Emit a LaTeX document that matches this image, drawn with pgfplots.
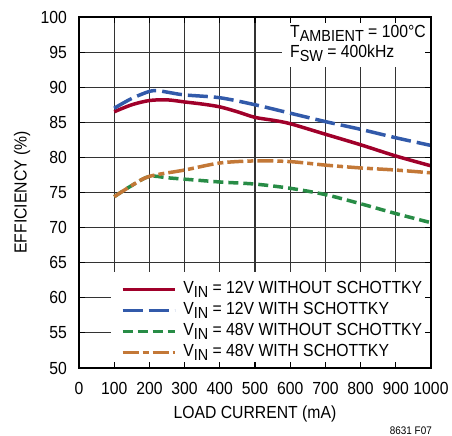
\documentclass[border=0pt]{standalone}
\usepackage{pgfplots}
\pgfplotsset{compat=1.18}
\usepackage{fontspec}
\setmainfont{Liberation Sans}[FakeStretch=0.9]
\newcommand\f{\fontsize{17.5bp}{21bp}\selectfont}
\newcommand\sub[1]{\raisebox{-4bp}{\fontsize{16bp}{16bp}\selectfont #1}}
\definecolor{cred}{RGB}{160,0,42}
\definecolor{cblue}{RGB}{50,90,170}
\definecolor{cgreen}{RGB}{40,140,70}
\definecolor{corange}{RGB}{195,120,55}
\begin{document}
\begin{tikzpicture}
\useasboundingbox (0,0) rectangle (452bp,436bp);
\begin{axis}[
  at={(79bp,68bp)}, anchor=south west,
  scale only axis, width=352bp, height=351bp,
  xmin=0, xmax=1000, ymin=50, ymax=100,
  xtick={0,100,...,1000}, ytick={50,55,...,100},
  grid=major, major grid style={black!80, line width=1.1bp},
  axis line style={line width=1.5bp},
  tick style={draw=none},
  /pgf/number format/assume math mode=true,
  /pgf/number format/1000 sep={},
  ticklabel style={font=\f, inner sep=0pt},
  yticklabel style={xshift=-12bp},
  xticklabel style={yshift=-14bp},
  legend image code/.code={\draw[#1] (0bp,0bp) -- (52bp,0bp);},
  legend style={at={(axis description cs:0.119,0.248)}, anchor=north west, draw=none, fill=none, font=\f, inner sep=0pt, outer sep=0pt, row sep=4bp, column sep=7bp, nodes={inner sep=0pt, text height=13bp, text depth=4bp}},
  legend cell align=left,
]
\fill[white] (axis cs:91,50) rectangle (axis cs:983,63.7);
\fill[white] (axis cs:577,92.9) rectangle (axis cs:1000,100);
\addplot[cred, line width=3.5bp, smooth] coordinates {
(100,86.5) (150,87.5) (200,88.1) (250,88.2) (300,87.9) (350,87.6) (400,87.2) (450,86.5) (500,85.7) (550,85.3) (600,84.8) (700,83.3) (800,81.8) (900,80.2) (1000,78.8)};
\addlegendentry{V\sub{IN} = 12V WITHOUT SCHOTTKY}
\addplot[cblue, line width=3.5bp, dash pattern=on 20bp off 6bp, smooth] coordinates {
(100,87.0) (150,88.4) (200,89.4) (225,89.5) (250,89.3) (300,88.9) (400,88.5) (500,87.5) (600,86.3) (700,85.1) (800,84.0) (900,82.8) (1000,81.7)};
\addlegendentry{V\sub{IN} = 12V WITH SCHOTTKY}
\addplot[cgreen, line width=3.5bp, dash pattern=on 10bp off 5bp, smooth] coordinates {
(100,74.4) (150,76.0) (200,77.3) (250,77.1) (300,76.9) (400,76.5) (500,76.2) (600,75.6) (700,74.7) (800,73.4) (900,72.0) (1000,70.7)};
\addlegendentry{V\sub{IN} = 48V WITHOUT SCHOTTKY}
\addplot[corange, line width=3.5bp, dash pattern=on 16bp off 4bp on 6bp off 4bp, smooth] coordinates {
(100,74.4) (150,76.0) (200,77.3) (300,78.2) (400,79.2) (500,79.5) (600,79.4) (700,78.9) (800,78.5) (900,78.2) (1000,77.8)};
\addlegendentry{V\sub{IN} = 48V WITH SCHOTTKY}
\end{axis}
\begin{axis}[
  at={(79bp,68bp)}, anchor=south west,
  scale only axis, width=352bp, height=351bp,
  xmin=0, xmax=1000, ymin=50, ymax=100,
  xtick={0,100,...,1000}, ytick={50,55,...,100},
  xticklabels={}, yticklabels={},
  tick align=inside, major tick length=6bp, tick pos=both,
  tick style={black, line width=1.1bp},
  axis line style={line width=1.5bp},
]
\end{axis}
\node[rotate=90, font=\f] at (22bp,243.5bp) {EFFICIENCY (\%)};
\node[font=\f, anchor=base] at (255bp,18bp) {LOAD CURRENT (mA)};
\node[font=\fontsize{11bp}{11bp}\selectfont, anchor=base east, inner sep=0pt] at (432bp,2bp) {8631 F07};
\node[font=\f, anchor=base west, inner sep=0pt] at (290bp,398bp) {T\sub{AMBIENT} = 100°C};
\node[font=\f, anchor=base west, inner sep=0pt] at (290bp,378bp) {F\sub{SW} = 400kHz};
\end{tikzpicture}
\end{document}
